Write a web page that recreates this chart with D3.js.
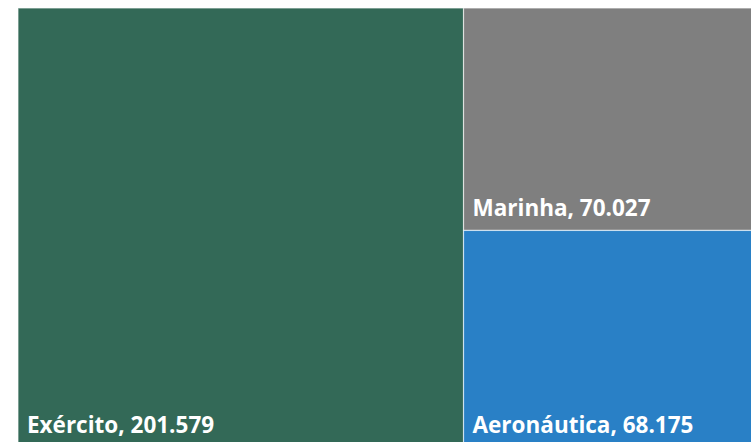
<!DOCTYPE html>
<html>
<head>
<meta charset="utf-8">
<script src="https://cdn.jsdelivr.net/npm/d3@7"></script>
<style>
  body { margin: 0; background: #fff; overflow: hidden; }
</style>
</head>
<body>
<div id="chart"></div>
<script>
// valores (efetivo por força)
const forcas = ["Exército", "Marinha", "Aeronáutica"];
const efetivos = [201579, 70027, 68175];
const cores = ["#336957", "#7f7f7f", "#2980c6"];

const largura = 751, altura = 442;
// o gráfico original passa um pouco das bordas da imagem
const x0 = 18, y0 = 8, larguraMapa = 751, alturaMapa = 439;

const svg = d3.select("#chart").append("svg")
  .attr("width", largura).attr("height", altura);

const raiz = d3.hierarchy({ children: forcas.map((f, i) => ({ nome: f, valor: efetivos[i], cor: cores[i] })) })
  .sum(d => d.valor);

d3.treemap()
  .tile(d3.treemapBinary)
  .size([larguraMapa, alturaMapa])(raiz);

const fmt = d3.formatLocale({ decimal: ",", thousands: ".", grouping: [3], currency: ["R$", ""] }).format(",d");

const g = svg.append("g").attr("transform", "translate(" + x0 + "," + y0 + ")");

const celula = g.selectAll("g").data(raiz.leaves()).enter().append("g")
  .attr("transform", d => "translate(" + d.x0 + "," + d.y0 + ")");

celula.append("rect")
  .attr("width", d => d.x1 - d.x0)
  .attr("height", d => d.y1 - d.y0)
  .attr("fill", d => d.data.cor)
  .attr("stroke", "#ffffff").attr("stroke-opacity", 0.6).attr("stroke-width", 1.2);

celula.append("text")
  .attr("x", 9)
  .attr("y", d => d.y1 - d.y0 - 14)
  .attr("fill", "#fff")
  .attr("font-family", "Open Sans, Noto Sans, sans-serif")
  .attr("font-weight", "bold")
  .attr("font-size", 22.5)
  .text(d => d.data.nome + ", " + fmt(d.data.valor));
</script>
</body>
</html>
